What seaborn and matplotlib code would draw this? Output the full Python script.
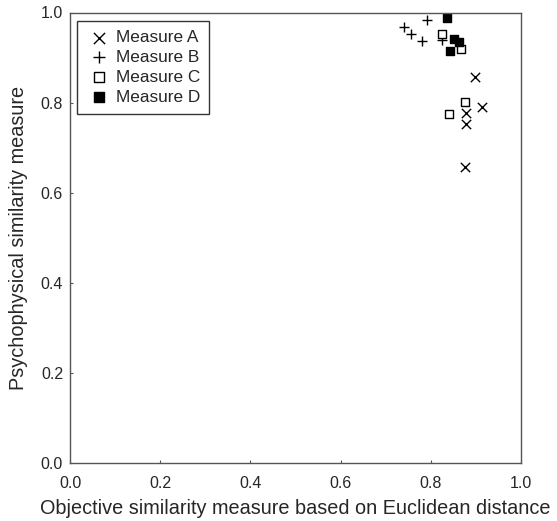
import matplotlib
matplotlib.use("Agg")
import matplotlib.pyplot as plt
import seaborn as sns

sns.set_style("ticks")
plt.rcParams['font.family'] = ['Liberation Sans', 'DejaVu Sans']

a_x = [0.898, 0.914, 0.878, 0.878, 0.876]
a_y = [0.857, 0.790, 0.776, 0.752, 0.658]
b_x = [0.792, 0.741, 0.756, 0.780, 0.824]
b_y = [0.984, 0.967, 0.953, 0.936, 0.938]
c_x = [0.825, 0.866, 0.876, 0.841]
c_y = [0.953, 0.920, 0.801, 0.775]
d_x = [0.835, 0.851, 0.863, 0.842]
d_y = [0.988, 0.942, 0.934, 0.915]
ticks = [0.0, 0.2, 0.4, 0.6, 0.8, 1.0]

fig = plt.figure(figsize=(5.57, 5.21), dpi=100)
ax = fig.add_axes([70/557, 1-463/521, 451/557, 450.5/521])

sns.scatterplot(x=a_x, y=a_y, marker='x', color='black', s=45, linewidth=1.0, ax=ax, label='Measure A')
sns.scatterplot(x=b_x, y=b_y, marker='+', color='black', s=45, linewidth=1.0, ax=ax, label='Measure B')
sns.scatterplot(x=c_x, y=c_y, marker='s', facecolor='white', edgecolor='black', s=38, linewidth=1.0, ax=ax, label='Measure C')
sns.scatterplot(x=d_x, y=d_y, marker='s', color='black', edgecolor='black', s=38, linewidth=1.0, ax=ax, label='Measure D')

ax.set_xlim(0, 1)
ax.set_ylim(0, 1)
ax.set_xticks(ticks)
ax.set_yticks(ticks)
ax.set_xticklabels([f"{t:.1f}" for t in ticks], fontsize=11.5)
ax.set_yticklabels([f"{t:.1f}" for t in ticks], fontsize=11.5)
ax.tick_params(direction='in', length=2.5, width=0.8, color='#555555')
ax.tick_params(axis='x', pad=9)
ax.tick_params(axis='y', pad=5)
for sp in ax.spines.values():
    sp.set_color('#555555')
    sp.set_linewidth(1.0)
ax.set_xlabel('Objective similarity measure based on Euclidean distance', fontsize=14.3, labelpad=6)
ax.set_ylabel('Psychophysical similarity measure', fontsize=14.3, labelpad=9)

leg = ax.legend(loc='upper left', bbox_to_anchor=(0.0155, 0.982), fontsize=12.4, frameon=True,
                fancybox=False, edgecolor='black', handletextpad=0.2, borderpad=0.55,
                labelspacing=0.28, handlelength=1.5, borderaxespad=0, markerscale=1.2)
leg.get_frame().set_linewidth(1.0)

fig.savefig('out.png', dpi=100)
